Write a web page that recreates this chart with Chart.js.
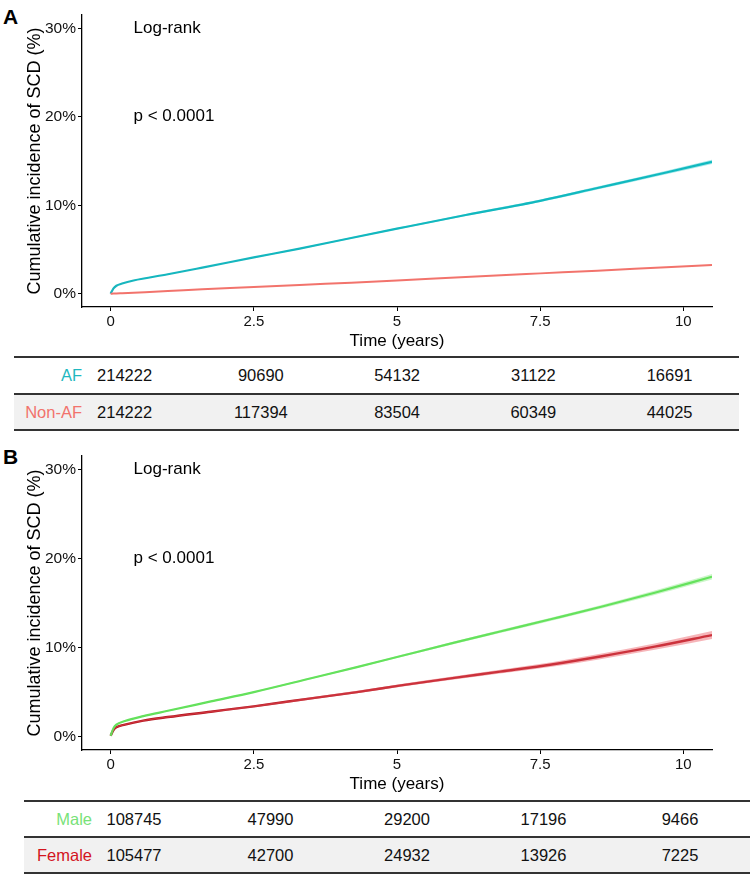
<!DOCTYPE html>
<html>
<head>
<meta charset="utf-8">
<script src="https://cdn.jsdelivr.net/npm/chart.js@4.4.1/dist/chart.umd.min.js"></script>
<style>
    html, body { margin: 0; padding: 0; background: #fff; }
    body { width: 750px; height: 879px; position: relative; overflow: hidden; font-family: "Liberation Sans", Arial, sans-serif; }
    canvas { position: absolute; left: 0; }
    .panel-label { position: absolute; left: 3px; font-weight: bold; font-size: 21px; line-height: 1; color: #000; }
    .rule { position: absolute; height: 2px; background: #333; }
    .shade { position: absolute; background: #f1f1f1; }
    .cell { position: absolute; font-size: 16.5px; white-space: nowrap; transform: translate(-50%, -50%); color: #111; }
    .rowlab { position: absolute; font-size: 16.5px; white-space: nowrap; transform: translate(-100%, -50%); }
</style>
</head>
<body>
<div class="panel-label" style="top:6px">A</div>
<canvas id="chartA" width="750" height="352" style="top:0"></canvas>
<div class="panel-label" style="top:446px">B</div>
<canvas id="chartB" width="750" height="355" style="top:440px"></canvas>
<div id="tables"></div>
<script>
    var xTicks = [0, 2.5, 5, 7.5, 10];
    var yTicks = [0, 10, 20, 30];

    // panel A: AF vs non-AF (cumulative incidence, %)
    var timesA = [0, 0.05, 0.1, 0.2, 0.4, 1, 1.6, 2.5, 3.3, 4.2, 5, 6.2, 7.5, 8.5, 9.7, 10.5];
    var af     = [0, 0.6, 0.9, 1.15, 1.5, 2.2, 2.95, 4.1, 5.1, 6.3, 7.35, 8.9, 10.5, 11.95, 13.7, 14.9];
    var afLow  = [0, 0.58, 0.88, 1.12, 1.46, 2.15, 2.9, 4.04, 5.03, 6.22, 7.25, 8.78, 10.36, 11.78, 13.5, 14.66];
    var afHigh = [0, 0.62, 0.92, 1.18, 1.54, 2.25, 3.0, 4.16, 5.17, 6.38, 7.45, 9.02, 10.64, 12.12, 13.9, 15.14];
    var nonAf  = [0, 0.02, 0.03, 0.06, 0.12, 0.3, 0.5, 0.75, 1.0, 1.25, 1.5, 1.9, 2.3, 2.6, 3.0, 3.25];

    // panel B: male vs female
    var timesB     = [0, 0.05, 0.1, 0.25, 0.57, 1, 1.75, 2.5, 3.5, 4.3, 5.07, 6, 6.8, 7.7, 8.55, 9.5, 10.5];
    var male       = [0.1, 0.95, 1.35, 1.75, 2.3, 2.9, 3.95, 5.0, 6.55, 7.8, 9.05, 10.55, 11.8, 13.2, 14.55, 16.15, 17.95];
    var maleLow    = [0.1, 0.9, 1.3, 1.7, 2.25, 2.85, 3.89, 4.93, 6.46, 7.7, 8.93, 10.41, 11.64, 13.02, 14.35, 15.9, 17.65];
    var maleHigh   = [0.1, 1.0, 1.4, 1.8, 2.35, 2.95, 4.01, 5.07, 6.64, 7.9, 9.17, 10.69, 11.96, 13.38, 14.75, 16.4, 18.25];
    var female     = [0.1, 0.75, 1.05, 1.35, 1.8, 2.2, 2.8, 3.4, 4.3, 5.0, 5.75, 6.6, 7.3, 8.1, 9.0, 10.1, 11.4];
    var femaleLow  = [0.1, 0.69, 0.99, 1.29, 1.73, 2.12, 2.71, 3.3, 4.18, 4.86, 5.59, 6.41, 7.08, 7.85, 8.7, 9.75, 10.95];
    var femaleHigh = [0.1, 0.81, 1.11, 1.41, 1.87, 2.28, 2.89, 3.5, 4.42, 5.14, 5.91, 6.79, 7.52, 8.35, 9.3, 10.45, 11.85];

    // numbers at risk
    var riskTimes  = [0, 2.5, 5, 7.5, 10];
    var riskAF     = [214222, 90690, 54132, 31122, 16691];
    var riskNonAF  = [214222, 117394, 83504, 60349, 44025];
    var riskMale   = [108745, 47990, 29200, 17196, 9466];
    var riskFemale = [105477, 42700, 24932, 13926, 7225];

    var annotText = ['Log-rank', 'p < 0.0001'];
    var annotY = [30, 20];
    var annotX = 0.4;

    var FONT = '"Liberation Sans", Arial, sans-serif';

    function pts(times, vals) {
        return times.map(function (t, i) { return { x: t, y: vals[i] }; });
    }

    function lineSet(times, vals, color, width) {
        return {
            data: pts(times, vals),
            borderColor: color,
            borderWidth: width,
            pointRadius: 0,
            fill: false,
            cubicInterpolationMode: 'monotone'
        };
    }

    function bandSets(times, low, high, color) {
        return [{
            data: pts(times, high),
            borderWidth: 0,
            pointRadius: 0,
            backgroundColor: color,
            fill: '+1',
            cubicInterpolationMode: 'monotone'
        }, {
            data: pts(times, low),
            borderWidth: 0,
            pointRadius: 0,
            fill: false,
            cubicInterpolationMode: 'monotone'
        }];
    }

    var annotPlugin = {
        id: 'annot',
        afterDraw: function (chart) {
            var ctx = chart.ctx, xs = chart.scales.x, ys = chart.scales.y;
            ctx.save();
            ctx.font = '17px ' + FONT;
            ctx.fillStyle = '#000';
            ctx.textBaseline = 'middle';
            ctx.textAlign = 'left';
            annotText.forEach(function (t, i) {
                ctx.fillText(t, xs.getPixelForValue(annotX), ys.getPixelForValue(annotY[i]));
            });
            ctx.restore();
        }
    };

    function makeChart(id, datasets, padTop, xAxisH) {
        return new Chart(document.getElementById(id), {
            type: 'line',
            data: { datasets: datasets },
            plugins: [annotPlugin],
            options: {
                responsive: false,
                animation: false,
                devicePixelRatio: 1,
                layout: { padding: { left: 0, right: 38, top: padTop, bottom: 0 } },
                plugins: { legend: { display: false }, tooltip: { enabled: false } },
                scales: {
                    x: {
                        type: 'linear',
                        min: -0.5,
                        max: 10.5,
                        afterBuildTicks: function (axis) {
                            axis.ticks = xTicks.map(function (v) { return { value: v }; });
                        },
                        afterFit: function (axis) { axis.height = xAxisH; },
                        grid: { display: true, drawOnChartArea: false, drawTicks: true, tickLength: 4, color: '#000', tickColor: '#000' },
                        border: { display: true, color: '#000', width: 1.3 },
                        ticks: {
                            color: '#111',
                            font: { family: FONT, size: 15 },
                            padding: 2,
                            maxRotation: 0,
                            callback: function (v) { return String(v); }
                        },
                        title: { display: true, text: 'Time (years)', color: '#000', font: { family: FONT, size: 17 }, padding: { top: 0, bottom: 0 } }
                    },
                    y: {
                        type: 'linear',
                        min: -1.5,
                        max: 31.5,
                        afterBuildTicks: function (axis) {
                            axis.ticks = yTicks.map(function (v) { return { value: v }; });
                        },
                        afterFit: function (axis) { axis.width = 82; },
                        grid: { display: true, drawOnChartArea: false, drawTicks: true, tickLength: 4, color: '#000', tickColor: '#000' },
                        border: { display: true, color: '#000', width: 1.3 },
                        ticks: {
                            color: '#111',
                            font: { family: FONT, size: 15.5 },
                            padding: 2,
                            callback: function (v) { return v + '%'; }
                        },
                        title: { display: true, text: 'Cumulative incidence of SCD (%)', color: '#000', font: { family: FONT, size: 18 }, padding: { top: 24, bottom: 0 } }
                    }
                }
            }
        });
    }

    makeChart('chartA',
        bandSets(timesA, afLow, afHigh, 'rgba(0,191,196,0.35)')
            .concat([lineSet(timesA, nonAf, '#F2736C', 2), lineSet(timesA, af, '#1BB5BE', 2.2)]),
        15, 45);

    makeChart('chartB',
        bandSets(timesB, maleLow, maleHigh, 'rgba(110,230,100,0.35)')
            .concat(bandSets(timesB, femaleLow, femaleHigh, 'rgba(235,90,100,0.45)'))
            .concat([lineSet(timesB, male, '#62E05A', 2.2), lineSet(timesB, female, '#B3121C', 2.4)]),
        16, 45);

    // risk tables
    function riskTable(cfg) {
        var host = document.getElementById('tables');
        var html = '';
        var w = cfg.right - cfg.left;
        cfg.rules.forEach(function (y) {
            html += '<div class="rule" style="left:' + cfg.left + 'px;top:' + (y - 1) + 'px;width:' + w + 'px"></div>';
        });
        html += '<div class="shade" style="left:' + cfg.left + 'px;top:' + (cfg.rules[1] + 1) + 'px;width:' + w +
            'px;height:' + (cfg.rules[2] - cfg.rules[1] - 2) + 'px"></div>';
        cfg.rows.forEach(function (row, r) {
            var cy = (cfg.rules[r] + cfg.rules[r + 1]) / 2;
            html += '<div class="rowlab" style="left:' + cfg.labelRight + 'px;top:' + cy + 'px;color:' + row.color + '">' + row.label + '</div>';
            row.values.forEach(function (v, i) {
                var cx = cfg.col0 + riskTimes[i] * cfg.colStep;
                html += '<div class="cell" style="left:' + cx + 'px;top:' + cy + 'px">' + v + '</div>';
            });
        });
        host.insertAdjacentHTML('beforeend', html);
    }

    riskTable({
        left: 14, right: 739, rules: [357, 393.5, 430], labelRight: 82, col0: 124.6, colStep: 54.5,
        rows: [
            { label: 'AF', color: '#1FB8C0', values: riskAF },
            { label: 'Non-AF', color: '#F2736C', values: riskNonAF }
        ]
    });

    riskTable({
        left: 24, right: 750, rules: [801, 837, 873], labelRight: 92, col0: 134, colStep: 54.6,
        rows: [
            { label: 'Male', color: '#78E278', values: riskMale },
            { label: 'Female', color: '#D3141E', values: riskFemale }
        ]
    });
</script>
</body>
</html>
